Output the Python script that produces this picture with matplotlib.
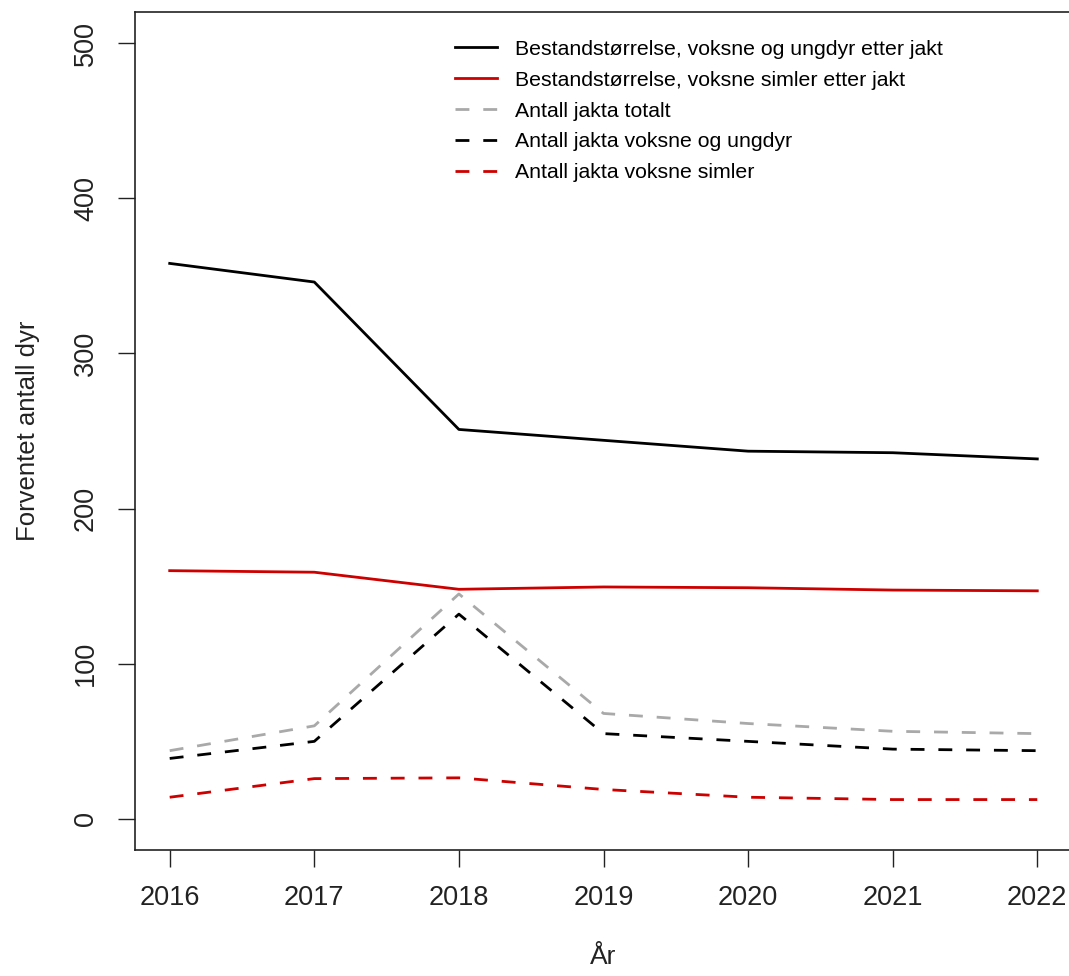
import matplotlib
matplotlib.use("Agg")
import matplotlib.pyplot as plt

# data
years = [2016, 2017, 2018, 2019, 2020, 2021, 2022]
bestand_voksne_ungdyr = [358, 346, 251, 244, 237, 236, 232]
bestand_simler = [160, 159, 148, 149.5, 149, 147.5, 147]
jakta_totalt = [44, 60, 145, 68, 61.5, 56.5, 55]
jakta_voksne_ungdyr = [39, 50, 132, 55, 50, 45, 44]
jakta_simler = [14, 26, 26.5, 19, 14, 12.5, 12.5]

labels = [
    "Bestandstørrelse, voksne og ungdyr etter jakt",
    "Bestandstørrelse, voksne simler etter jakt",
    "Antall jakta totalt",
    "Antall jakta voksne og ungdyr",
    "Antall jakta voksne simler",
]

plt.rcParams['font.family'] = ['Liberation Sans', 'DejaVu Sans']

W, H = 1069, 976
fig = plt.figure(figsize=(W / 100, H / 100), dpi=100)
ax = fig.add_axes([135 / W, (H - 850) / H, (1072 - 135) / W, (850 - 12) / H])

red = "#CD0000"
grey = "#A9A9A9"
lw = 2.0
dash = (5, 5)

ax.plot(years, bestand_voksne_ungdyr, color="black", lw=lw, label=labels[0])
ax.plot(years, bestand_simler, color=red, lw=lw, label=labels[1])
ax.plot(years, jakta_totalt, color=grey, lw=lw, dashes=dash, label=labels[2])
ax.plot(years, jakta_voksne_ungdyr, color="black", lw=lw, dashes=dash, label=labels[3])
ax.plot(years, jakta_simler, color=red, lw=lw, dashes=dash, label=labels[4])

ax.set_xlim(2015.76, 2022.24)
ax.set_ylim(-20, 520)
ax.set_xticks(years)
ax.set_yticks([0, 100, 200, 300, 400, 500])
ax.tick_params(axis="both", direction="out", length=12, width=1, labelsize=19.5,
               colors="#222222")
ax.tick_params(axis="x", pad=13)
ax.tick_params(axis="y", pad=14)
for t in ax.get_yticklabels():
    t.set_rotation(90)
    t.set_va("center")

for s in ax.spines.values():
    s.set_linewidth(1.2)
    s.set_color("#222222")

ax.set_xlabel("År", fontsize=19, labelpad=25, color="#222222")
ax.set_ylabel("Forventet antall dyr", fontsize=18.5, labelpad=24, color="#222222")

ax.legend(loc="upper left", bbox_to_anchor=(0.332, 0.977), frameon=False,
          fontsize=15.3, handlelength=2.0, handletextpad=0.85, labelspacing=0.56,
          borderaxespad=0)

fig.savefig("out.png", dpi=100)
